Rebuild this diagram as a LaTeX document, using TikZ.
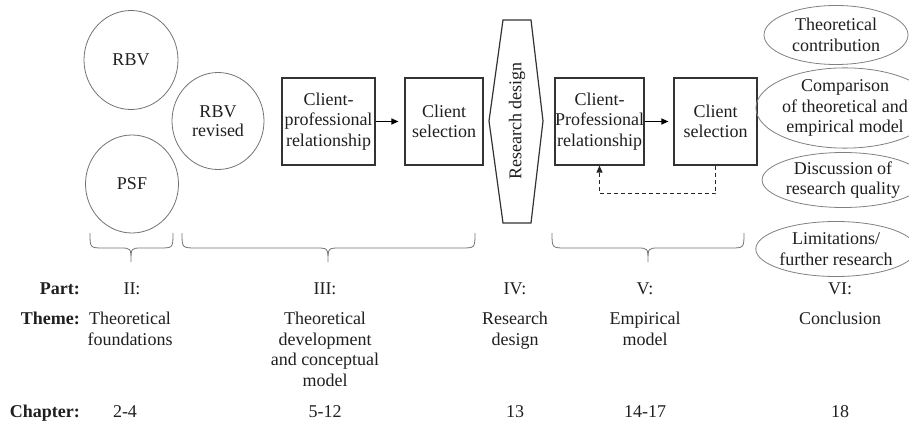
\documentclass[tikz,border=0pt]{standalone}
\usepackage{fontspec}
\setmainfont{Liberation Serif}
\usetikzlibrary{shapes.geometric,arrows.meta}
\begin{document}
\begin{tikzpicture}[x=1pt,y=-1pt,
  every node/.style={font=\fontsize{18}{20.5}\selectfont, text=black!88},
  circ/.style={draw=black!55, line width=0.8pt, ellipse, inner sep=0pt, align=center},
  oval/.style={draw=black!50, line width=0.8pt, ellipse, inner sep=0pt, align=center},
  box/.style={draw=black!80, line width=1.2pt, rectangle, inner sep=0pt, minimum height=87, align=center},
  flow/.style={draw=black, line width=1.2pt, -{Triangle[length=7pt,width=6pt]}},
  loop/.style={draw=black!85, line width=1pt, dashed, dash pattern=on 4pt off 3pt, -{Triangle[length=7pt,width=6pt]}},
  brace/.style={draw=black!55, line width=0.8pt},
  lbl/.style={anchor=north, inner sep=0pt, align=center},
  head/.style={anchor=north east, inner sep=0pt, font=\fontsize{18}{20.5}\selectfont\bfseries}]
\useasboundingbox (0,0) rectangle (909,422);

% Part II: foundations
\node[circ, minimum width=94, minimum height=99] (rbv) at (131,60) {RBV};
\node[circ, minimum width=93, minimum height=98] (psf) at (132,184) {PSF};

% Part III: conceptual model
\node[circ, minimum width=92, minimum height=97] (rbvr) at (218,121) {RBV\\[-2pt]revised};
\node[box, minimum width=93] (cp1) at (328.5,121.5) {Client-\\professional\\relationship};
\node[box, minimum width=78] (cs1) at (444,121.5) {Client\\selection};
\draw[flow, shorten >=6pt] (cp1.east) -- (cs1.west);

% Part IV: research design
\coordinate (h1) at (503,20);
\coordinate (h2) at (531,20);
\coordinate (h3) at (543,121);
\coordinate (h4) at (531,223);
\coordinate (h5) at (503,223);
\coordinate (h6) at (489,121);
\draw[draw=black!80, line width=1.2pt] (h1) -- (h2) -- (h3) -- (h4) -- (h5) -- (h6) -- cycle;
\node[rotate=90, inner sep=0pt] (rd) at (517,121) {Research design};

% Part V: empirical model
\node[box, minimum width=89] (cp2) at (599.5,121.5) {Client-\\Professional\\relationship};
\node[box, minimum width=83] (cs2) at (715.5,121.5) {Client\\selection};
\draw[flow, shorten >=5pt] (cp2.east) -- (cs2.west);
\draw[loop] (cs2.south) -- ++(0,28) -| (cp2.south);

% Part VI: conclusion
\node[oval, minimum width=144, minimum height=59] (e1) at (836,35) {Theoretical\\contribution};
\node[oval, minimum width=124, minimum height=73] (e2) at (845,108) {Comparison\\of theoretical and\\empirical model};
\node[oval, minimum width=120, minimum height=55] (e3) at (843,180) {Discussion of\\research quality};
\node[oval, minimum width=142, minimum height=55] (e4) at (836,249) {Limitations/\\further research};

% Braces under the parts
\draw[brace] (90,233) .. controls (90,248) .. (104,248) -- (120,248)
  .. controls (131,248) .. (131,262) .. controls (131,248) .. (142,248)
  -- (159,248) .. controls (173,248) .. (173,233);
\draw[brace] (182,233) .. controls (182,248) .. (197,248) -- (316,248)
  .. controls (328,248) .. (328,262) .. controls (328,248) .. (340,248)
  -- (461,248) .. controls (475,248) .. (475,233);
\draw[brace] (552,233) .. controls (552,248) .. (566,248) -- (637,248)
  .. controls (648,248) .. (648,262) .. controls (648,248) .. (659,248)
  -- (730,248) .. controls (744,248) .. (744,233);

% Row headings
\node[head] (hpart) at (80,283) {Part:};
\node[head] (htheme) at (80,312) {Theme:};
\node[head] (hchap) at (80,405) {Chapter:};

% Part numbers
\node[lbl] (p2) at (132,283) {II:};
\node[lbl] (p3) at (325,283) {III:};
\node[lbl] (p4) at (515,283) {IV:};
\node[lbl] (p5) at (645,283) {V:};
\node[lbl] (p6) at (840,283) {VI:};

% Themes
\node[lbl] (t2) at (130,312) {Theoretical\\foundations};
\node[lbl] (t3) at (325,312) {Theoretical\\development\\and conceptual\\model};
\node[lbl] (t4) at (515,312) {Research\\design};
\node[lbl] (t5) at (645,312) {Empirical\\model};
\node[lbl] (t6) at (840,312) {Conclusion};

% Chapters
\node[lbl] (c2) at (125,405) {2-4};
\node[lbl] (c3) at (325,405) {5-12};
\node[lbl] (c4) at (515,405) {13};
\node[lbl] (c5) at (645,405) {14-17};
\node[lbl] (c6) at (840,405) {18};
\end{tikzpicture}
\end{document}
